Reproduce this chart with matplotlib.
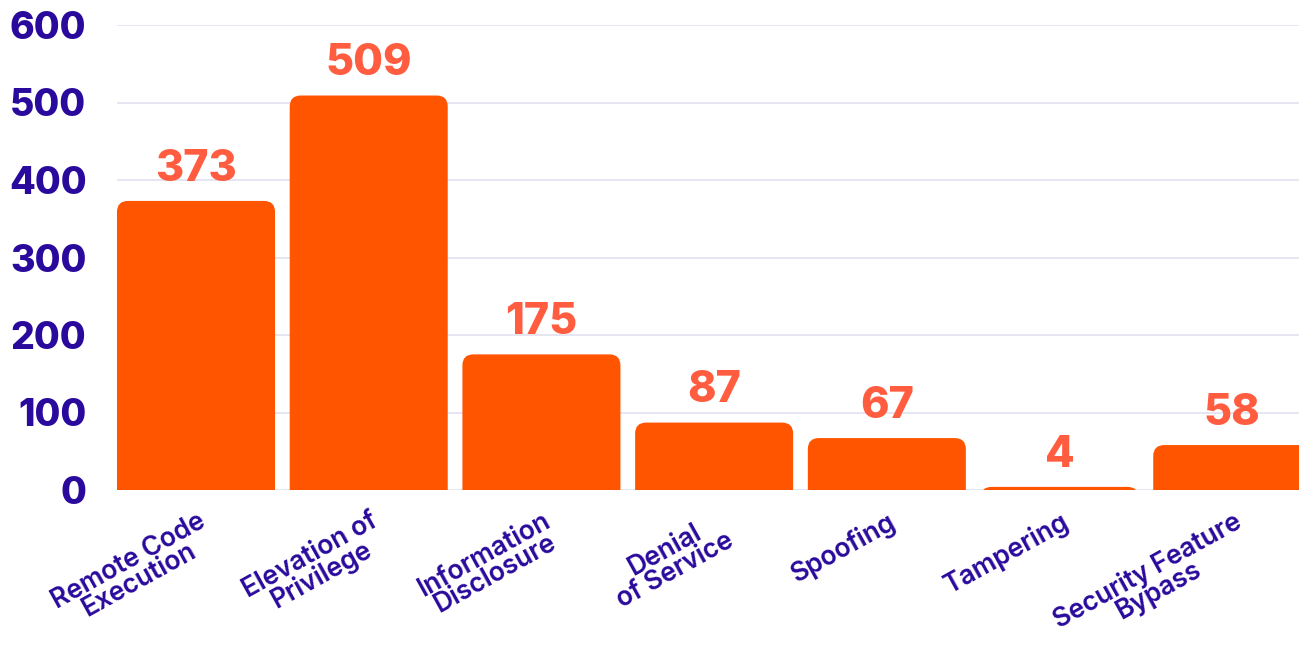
import matplotlib
matplotlib.use("Agg")
import matplotlib.pyplot as plt
from matplotlib.patches import FancyBboxPatch
import matplotlib.transforms as mtransforms

categories = ["Remote Code\nExecution", "Elevation of\nPrivilege", "Information\nDisclosure",
              "Denial\nof Service", "Spoofing", "Tampering", "Security Feature\nBypass"]
values = [373, 509, 175, 87, 67, 4, 58]
yticks = [0, 100, 200, 300, 400, 500, 600]

BAR = "#FF5500"
LABEL = "#FF5C40"
INK = "#2A0A9C"
GRID = "#E2E0F0"

plt.rcParams['font.family'] = ['Inter', 'DejaVu Sans']

fig = plt.figure(figsize=(12.99, 6.52), dpi=100)
W, H = 1299, 652
left_px, right_px, bottom_px, top_px = 117, 1318.6, 490, 25
ax = fig.add_axes([left_px / W, (H - bottom_px) / H, (right_px - left_px) / W, (bottom_px - top_px) / H])

width = 0.915
xs = list(range(len(values)))
ax.set_xlim(-width / 2, 6.5)
ax.set_ylim(0, 600)

bars = ax.bar(xs, values, width=width, color=BAR, alpha=0)

# rounded top corners
px_per_x = (right_px - left_px) / (6.5 + width / 2)
px_per_y = (bottom_px - top_px) / 600
r_px = 11
rx = r_px / px_per_x
aspect = px_per_x / px_per_y
for b, v in zip(bars, values):
    x0 = b.get_x()
    patch = FancyBboxPatch((x0, -40), b.get_width(), v + 40,
                           boxstyle=f"round,pad=0,rounding_size={rx}",
                           mutation_aspect=aspect, facecolor=BAR, edgecolor="none",
                           zorder=2, clip_on=True)
    ax.add_patch(patch)
    patch.set_clip_path(ax.patch)
    ax.annotate(str(v), (b.get_x() + b.get_width() / 2, v), xytext=(0, 8),
                textcoords="offset points", ha="center", va="bottom",
                fontsize=31, fontweight="heavy", color=LABEL, zorder=3)

ax.set_yticks(yticks)
ax.set_yticklabels([str(t) for t in yticks], fontsize=27, fontweight="heavy", color=INK)
ax.tick_params(axis="y", length=0, pad=22)
ax.yaxis.grid(True, color=GRID, linewidth=1.2, zorder=0)
ax.set_axisbelow(True)

ax.set_xticks(xs)
ax.set_xticklabels(categories, rotation=29, ha="right", va="top", rotation_mode="anchor",
                   fontsize=19, fontweight="semibold", color=INK, multialignment="center",
                   linespacing=0.8)
ax.tick_params(axis="x", length=0, pad=13)
offset = mtransforms.ScaledTranslation(1 / 100, 0, fig.dpi_scale_trans)
for lab in ax.get_xticklabels():
    lab.set_transform(lab.get_transform() + offset)

for s in ax.spines.values():
    s.set_visible(False)

fig.savefig("out.png", dpi=100)
